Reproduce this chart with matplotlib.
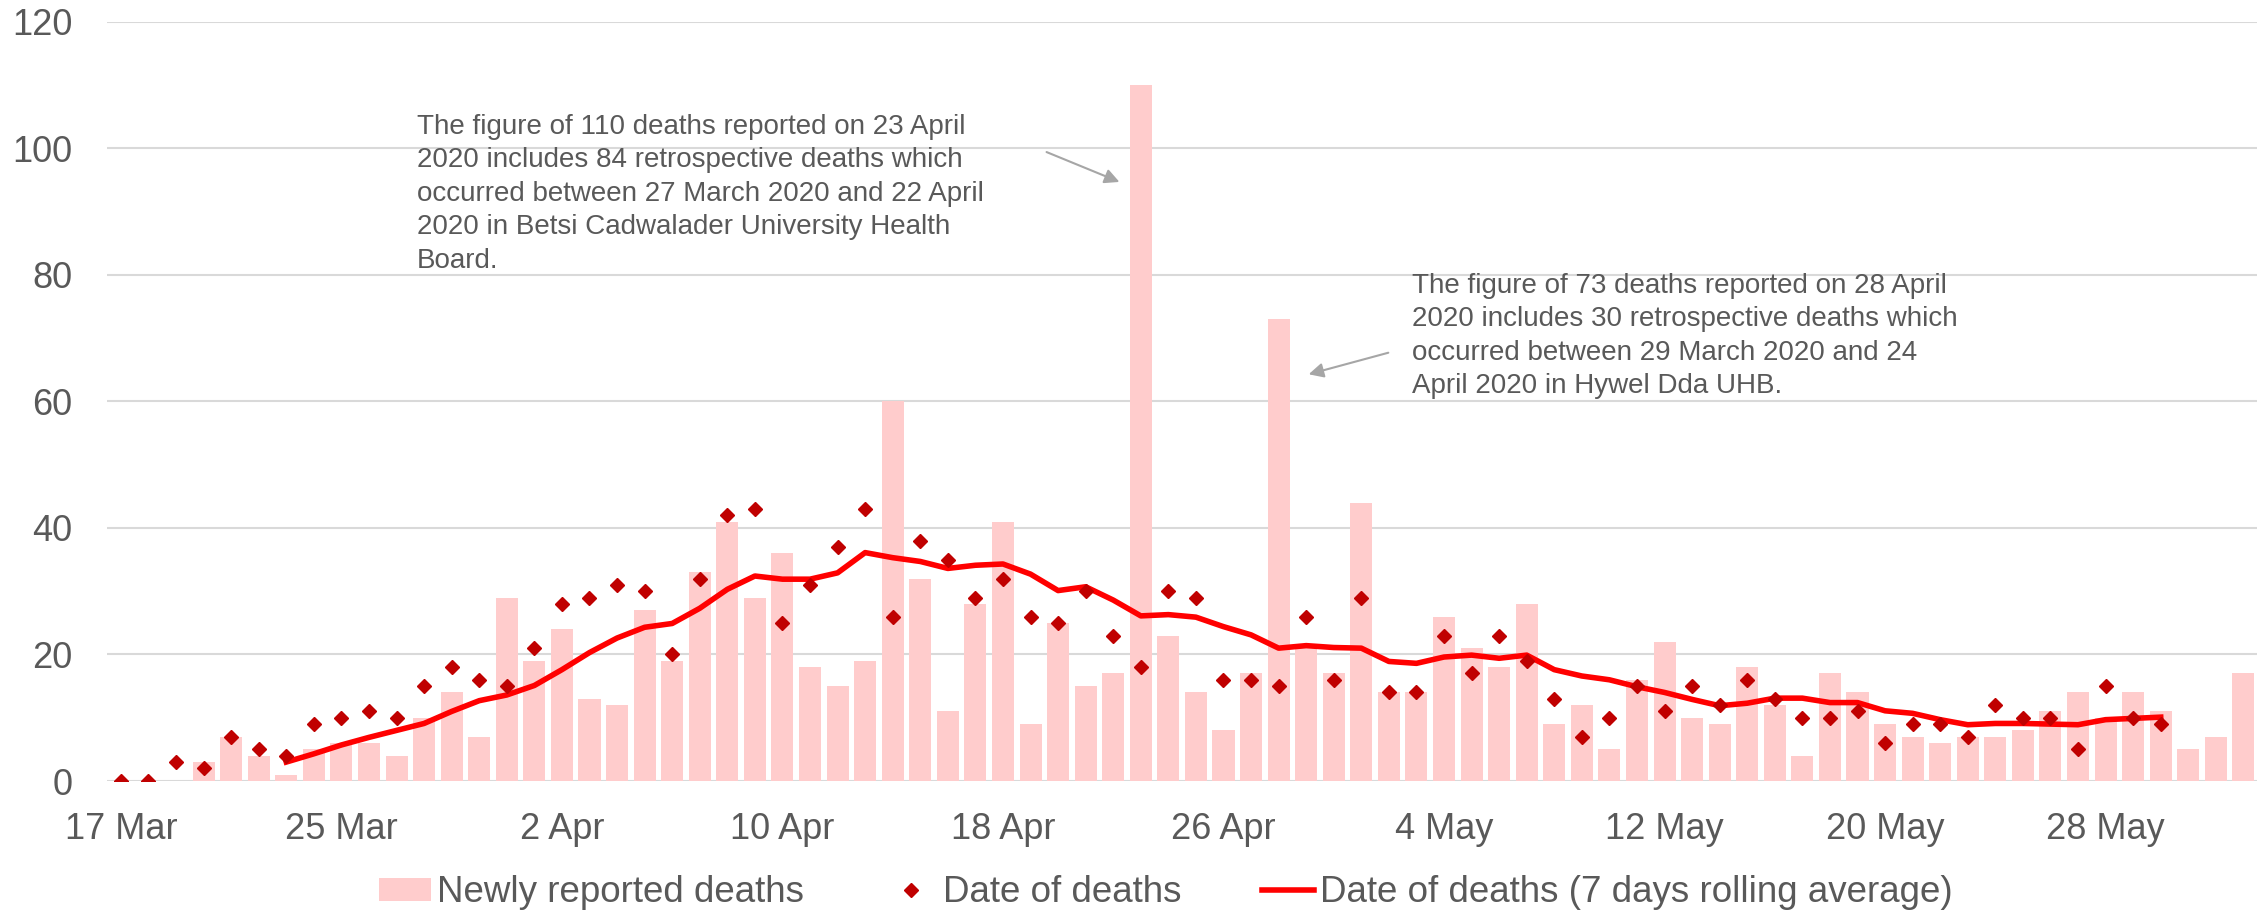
import matplotlib
matplotlib.use("Agg")
import matplotlib.pyplot as plt
import numpy as np

plt.rcParams['font.family'] = ['Liberation Sans', 'DejaVu Sans']

# one entry per day, 17 Mar to 2 Jun 2020
days = ['17 Mar', '18 Mar', '19 Mar', '20 Mar', '21 Mar', '22 Mar', '23 Mar', '24 Mar',
        '25 Mar', '26 Mar', '27 Mar', '28 Mar', '29 Mar', '30 Mar', '31 Mar',
        '1 Apr', '2 Apr', '3 Apr', '4 Apr', '5 Apr', '6 Apr', '7 Apr', '8 Apr', '9 Apr',
        '10 Apr', '11 Apr', '12 Apr', '13 Apr', '14 Apr', '15 Apr', '16 Apr', '17 Apr',
        '18 Apr', '19 Apr', '20 Apr', '21 Apr', '22 Apr', '23 Apr', '24 Apr', '25 Apr',
        '26 Apr', '27 Apr', '28 Apr', '29 Apr', '30 Apr',
        '1 May', '2 May', '3 May', '4 May', '5 May', '6 May', '7 May', '8 May', '9 May',
        '10 May', '11 May', '12 May', '13 May', '14 May', '15 May', '16 May', '17 May',
        '18 May', '19 May', '20 May', '21 May', '22 May', '23 May', '24 May', '25 May',
        '26 May', '27 May', '28 May', '29 May', '30 May', '31 May', '1 Jun', '2 Jun']

reported = [0, 0, 0, 3, 7, 4, 1, 5, 6, 6, 4, 10, 14, 7, 29,
            19, 24, 13, 12, 27, 19, 33, 41, 29, 36, 18, 15, 19, 60, 32, 11, 28, 41, 9, 25,
            15, 17, 110, 23, 14, 8, 17, 73, 21, 17,
            44, 14, 14, 26, 21, 18, 28, 9, 12, 5, 16, 22, 10, 9, 18, 12, 4, 17, 14, 9, 7,
            6, 7, 7, 8, 11, 14, 10, 14, 11, 5, 7, 17]

# date of death, 17 Mar to 30 May
date_of_death = [0, 0, 3, 2, 7, 5, 4, 9, 10, 11, 10, 15, 18, 16, 15,
                 21, 28, 29, 31, 30, 20, 32, 42, 43, 25, 31, 37, 43, 26, 38, 35, 29, 32, 26,
                 25, 30, 23, 18, 30, 29, 16, 16, 15, 26, 16,
                 29, 14, 14, 23, 17, 23, 19, 13, 7, 10, 15, 11, 15, 12, 16, 13, 10, 10, 11,
                 6, 9, 9, 7, 12, 10, 10, 5, 15, 10, 9]

# 7 day rolling average, 23 Mar to 30 May
rolling = [3.0, 4.3, 5.7, 6.9, 8.0, 9.1, 11.0, 12.7, 13.6,
           15.1, 17.6, 20.3, 22.6, 24.3, 24.9, 27.3, 30.3, 32.4, 31.9, 31.9, 32.9, 36.1,
           35.3, 34.7, 33.6, 34.1, 34.3, 32.7, 30.1, 30.7, 28.6, 26.1, 26.3, 25.9, 24.4,
           23.1, 21.0, 21.4, 21.1,
           21.0, 18.9, 18.6, 19.6, 19.9, 19.4, 19.9, 17.6, 16.6, 16.0, 14.9, 14.0, 12.9,
           11.9, 12.3, 13.1, 13.1, 12.4, 12.4, 11.1, 10.7, 9.7, 8.9, 9.1, 9.1, 9.0, 8.9,
           9.7, 9.9, 10.1]

x = np.arange(len(days))
x_dots = np.arange(len(date_of_death))
x_roll = np.arange(6, 6 + len(rolling))

grey = '#595959'

fig = plt.figure(figsize=(22.64, 9.15), dpi=100)
ax = fig.add_axes([0.0473, 0.1464, 0.9497, 0.8299])

bars = ax.bar(x, reported, width=0.8, color='#FFCCCC', label='Newly reported deaths', zorder=2)
dots, = ax.plot(x_dots, date_of_death, linestyle='none', marker='D', markersize=7.5,
                color='#C00000', label='Date of deaths', zorder=4)
line, = ax.plot(x_roll, rolling, color='#FF0000', linewidth=4,
                label='Date of deaths (7 days rolling average)', zorder=3)

ax.set_xlim(-0.5, len(days) - 0.5)
ax.set_ylim(0, 120)
ax.set_yticks(range(0, 121, 20))
ax.set_xticks(x[::8])
ax.set_xticklabels(days[::8])
ax.yaxis.grid(True, color='#D9D9D9', linewidth=1.5, zorder=0)
ax.set_axisbelow(True)
for s in ax.spines.values():
    s.set_visible(False)
ax.tick_params(axis='both', length=0, labelsize=26, colors=grey)
ax.tick_params(axis='x', pad=22)
ax.tick_params(axis='y', pad=25)

note1 = ('The figure of 110 deaths reported on 23 April\n'
         '2020 includes 84 retrospective deaths which\n'
         'occurred between 27 March 2020 and 22 April\n'
         '2020 in Betsi Cadwalader University Health\n'
         'Board.')
note2 = ('The figure of 73 deaths reported on 28 April\n'
         '2020 includes 30 retrospective deaths which\n'
         'occurred between 29 March 2020 and 24\n'
         'April 2020 in Hywel Dda UHB.')

fig.text(417 / 2264, 1 - 114 / 915, note1, fontsize=20, color=grey, va='top', ha='left',
         linespacing=1.37)
fig.text(1412 / 2264, 1 - 273 / 915, note2, fontsize=20, color=grey, va='top', ha='left',
         linespacing=1.37)

arrow = dict(arrowstyle='-|>', color='#A6A6A6', lw=1.5, mutation_scale=22)
ax.annotate('', xy=(1122 / 2264, 1 - 183 / 915), xytext=(1044 / 2264, 1 - 151 / 915),
            xycoords='figure fraction', textcoords='figure fraction', arrowprops=arrow)
ax.annotate('', xy=(1306 / 2264, 1 - 375 / 915), xytext=(1391 / 2264, 1 - 352 / 915),
            xycoords='figure fraction', textcoords='figure fraction', arrowprops=arrow)

fig.legend(handles=[bars, dots, line], loc='center', bbox_to_anchor=(0.515, 1 - 893 / 915),
           ncol=3, frameon=False, fontsize=26.5, labelcolor=grey, handlelength=1.4,
           handletextpad=0.17, columnspacing=2.2, handleheight=0.57)

fig.savefig('out.png', dpi=100)
